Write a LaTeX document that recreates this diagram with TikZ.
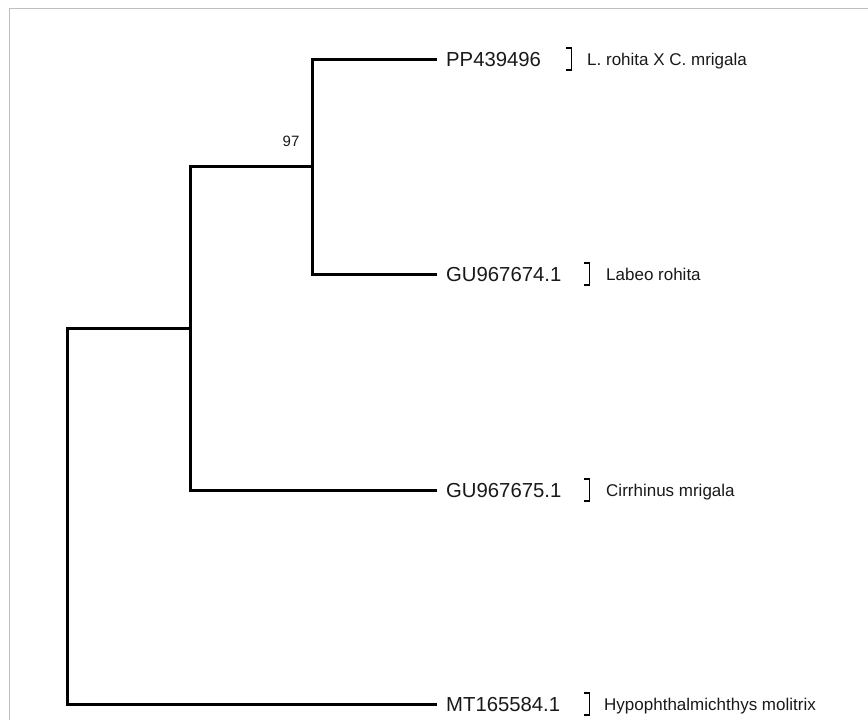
\documentclass[tikz,border=0pt]{standalone}
\usepackage{fontspec}
\setmainfont{Liberation Sans}
\begin{document}
\begin{tikzpicture}[x=1pt,y=-1pt,
  branch/.style={line width=3pt, line join=miter, line cap=rect, black},
  brk/.style={line width=1.5pt, black},
  idlabel/.style={anchor=base west, inner sep=0pt, font=\fontsize{20.3}{22}\selectfont, text=black!90},
  species/.style={anchor=base west, inner sep=0pt, font=\fontsize{17}{19}\selectfont, text=black!90},
  boot/.style={anchor=base, inner sep=0pt, font=\fontsize{15}{17}\selectfont, text=black!90}]
\useasboundingbox (0,0) rectangle (868,720);
% frame
\draw[line width=1.5pt, black!25] (9.5,720) -- (9.5,8.5) -- (868,8.5);
% leaf labels
\node[idlabel] (pp)  at (446,66.5)  {PP439496};
\node[idlabel] (gu4) at (446,281.5) {GU967674.1};
\node[idlabel] (gu5) at (446,497.5) {GU967675.1};
\node[idlabel] (mt)  at (446,711.5) {MT165584.1};
% internal nodes
\coordinate (b) at (312,166);
\coordinate (a) at (190,328);
\coordinate (r) at (67,328);
\coordinate (ppe)  at ([xshift=-11pt]pp.west);
\coordinate (gu4e) at ([xshift=-11pt]gu4.west);
\coordinate (gu5e) at ([xshift=-11pt]gu5.west);
\coordinate (mte)  at ([xshift=-11pt]mt.west);
% branches
\draw[branch] (ppe) -| (b) |- (gu4e);
\draw[branch] (b) -| (a) |- (gu5e);
\draw[branch] (a) -| (r) |- (mte);
% bootstrap
\node[boot] (bs) at (291,146) {97};
% brackets and species names
\draw[brk] (566,48) -- (571.5,48) -- (571.5,70) -- (566,70);
\node[species] (s1) at (587,65.5) {L. rohita X C. mrigala};
\draw[brk] (584,263) -- (589.5,263) -- (589.5,285) -- (584,285);
\node[species] (s2) at (606,280.5) {Labeo rohita};
\draw[brk] (584,479) -- (589.5,479) -- (589.5,501) -- (584,501);
\node[species] (s3) at (606,496.5) {Cirrhinus mrigala};
\draw[brk] (584,693) -- (589.5,693) -- (589.5,715) -- (584,715);
\node[species] (s4) at (604,710.5) {Hypophthalmichthys molitrix};
\end{tikzpicture}
\end{document}
